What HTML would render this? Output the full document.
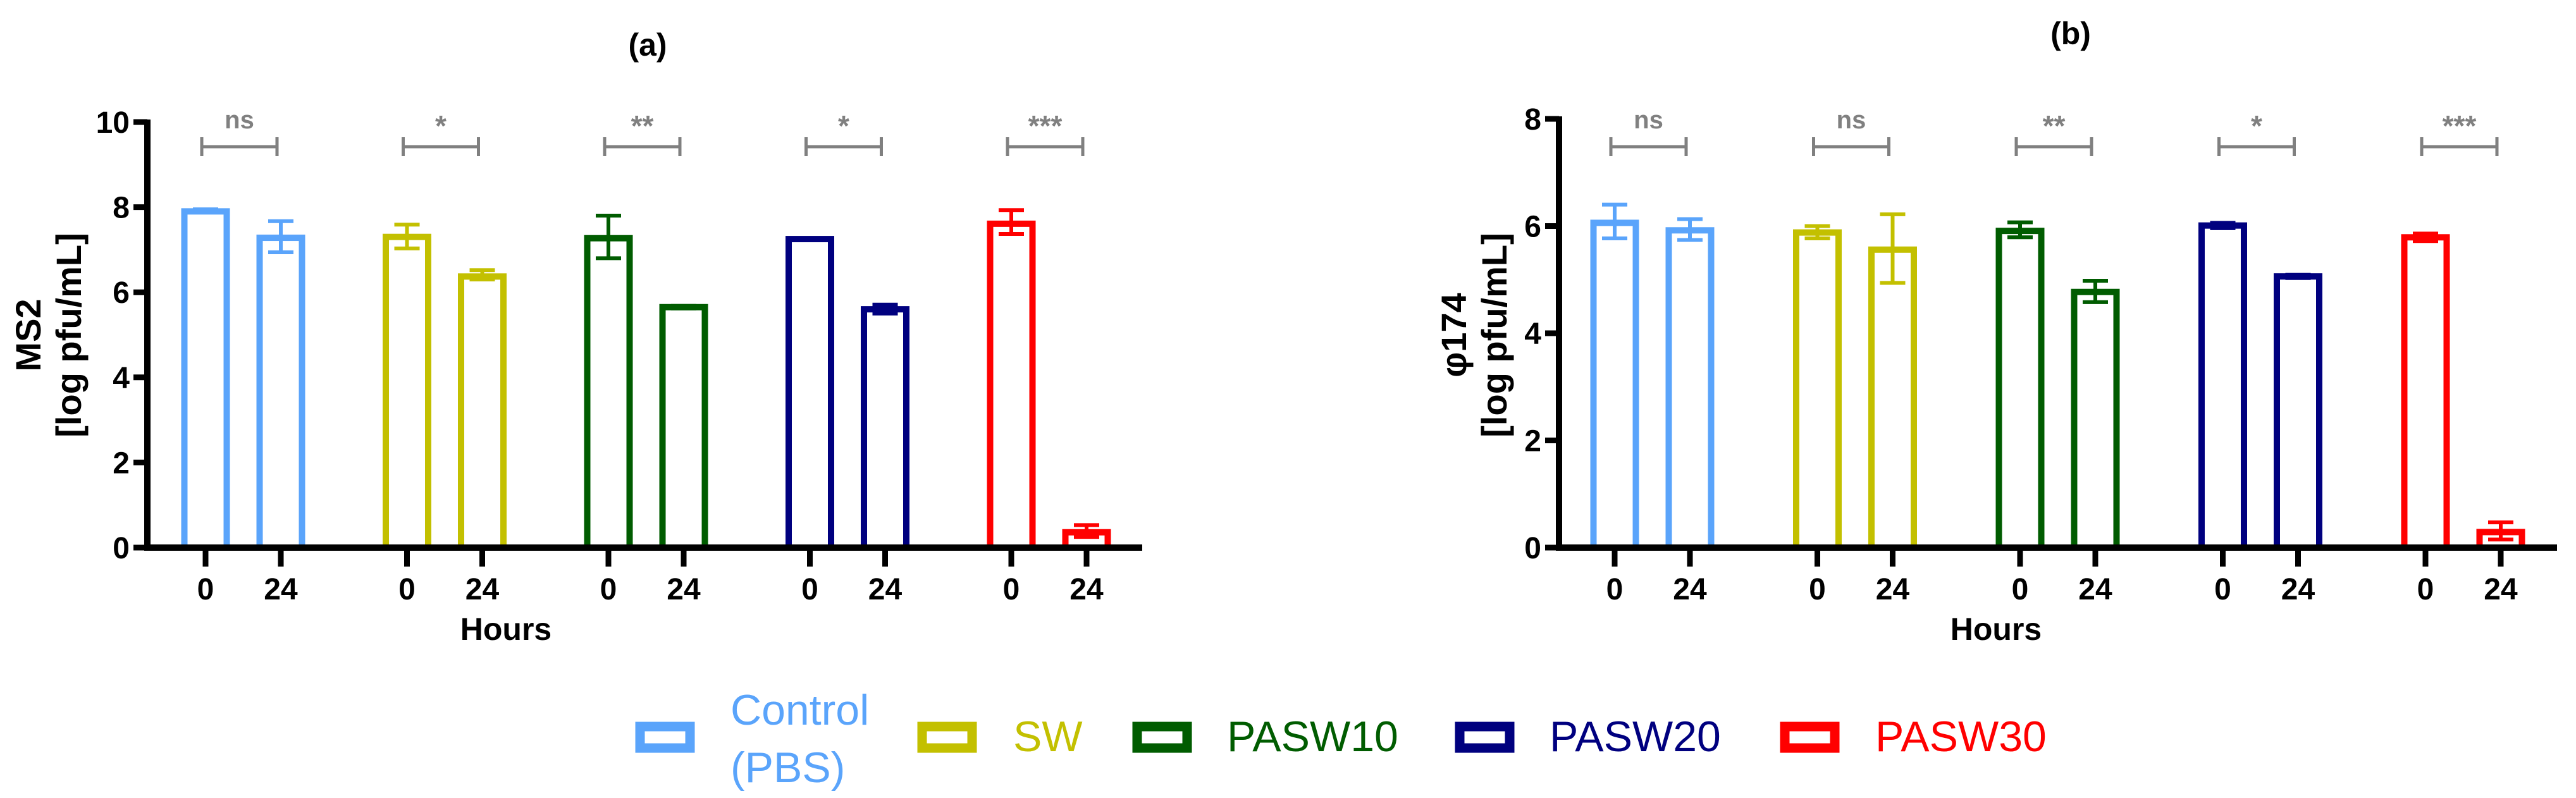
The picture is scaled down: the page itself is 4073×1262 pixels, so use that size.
<!DOCTYPE html>
<html><head><meta charset="utf-8"><style>
html,body{margin:0;padding:0;background:#fff}
svg{display:block;font-family:"Liberation Sans",Arial,sans-serif}
</style></head><body>
<svg id="chart" width="4073" height="1262" viewBox="0 0 4073 1262"></svg>
<script>
const groups = ["Control (PBS)","SW","PASW10","PASW20","PASW30"];
const colors = ["#5aa4fb","#c3c000","#005c00","#00007f","#ff0000"];
const timeLabels = ["0","24"];
const msMean = [[7.9,7.28],[7.3,6.37],[7.27,5.65],[7.25,5.6],[7.61,0.36]];
const msUp   = [[7.95,7.67],[7.59,6.52],[7.8,5.68],[7.27,5.71],[7.93,0.53]];
const msLo   = [[7.88,6.94],[7.03,6.3],[6.8,5.62],[7.23,5.5],[7.37,0.25]];
const phMean = [[6.06,5.92],[5.88,5.56],[5.91,4.77],[6.01,5.06],[5.79,0.29]];
const phUp   = [[6.4,6.13],[6.0,6.22],[6.07,4.98],[6.06,5.09],[5.86,0.47]];
const phLo   = [[5.77,5.74],[5.77,4.94],[5.79,4.58],[5.96,5.03],[5.72,0.15]];
const msSig = ["ns","*","**","*","***"];
const phSig = ["ns","ns","**","*","***"];
const msTicks = [0,2,4,6,8,10];
const phTicks = [0,2,4,6,8];

const svg = document.getElementById('chart');
const NS = "http://www.w3.org/2000/svg";
function mk(tag, attrs, parent){const e=document.createElementNS(NS,tag);for(const k in attrs)e.setAttribute(k,attrs[k]);(parent||svg).appendChild(e);return e;}

function panel(cfg){
  const g = mk('g',{});
  
  
  const y = v => cfg.y0 - (v/cfg.ymax)*(cfg.y0-cfg.yTop);
  const x = (gi,ti) => cfg.x0 + gi*cfg.groupStep + ti*cfg.innerStep;
  cfg.mean.forEach((pair,gi)=>pair.forEach((v,ti)=>{
    const cx = x(gi,ti), bw=67, sw=10;
    const r = mk('rect',{x:cx-bw/2,y:y(v),width:bw,height:cfg.y0-y(v),fill:'none',stroke:colors[gi],'stroke-width':sw},g);
    
    
    const up=cfg.up[gi][ti], lo=cfg.lo[gi][ti];
    const e = mk('path',{d:`M${cx},${y(lo)}V${y(up)}M${cx-20},${y(up)}H${cx+20}M${cx-20},${y(lo)}H${cx+20}`,stroke:colors[gi],'stroke-width':6,fill:'none'},g);
    
    
  }));
  const ax = mk('path',{d:`M${cfg.xAxis},${cfg.yTop-4}V${cfg.y0+5}M${cfg.xAxis-5},${cfg.y0}H${cfg.xEnd}`,stroke:'#000','stroke-width':10,fill:'none'},g);
  
  
  cfg.ticks.forEach(t=>{
    mk('line',{x1:cfg.xAxis-22,x2:cfg.xAxis,y1:y(t),y2:y(t),stroke:'#000','stroke-width':9},g);
    const tl = mk('text',{x:cfg.xAxis-28,y:y(t)+17,'text-anchor':'end','font-size':48,'font-weight':'bold'},g);
    tl.textContent=t;
    
    
  });
  groups.forEach((gn,gi)=>timeLabels.forEach((tl,ti)=>{
    const cx=x(gi,ti);
    mk('line',{x1:cx,x2:cx,y1:cfg.y0,y2:cfg.y0+30,stroke:'#000','stroke-width':9},g);
    const t=mk('text',{x:cx,y:cfg.y0+82,'text-anchor':'middle','font-size':48,'font-weight':'bold'},g);
    t.textContent=tl;
    
    
  }));
  cfg.sig.forEach((s,gi)=>{
    const a=x(gi,0)-6,b=x(gi,1)-6,by=232;
    const br=mk('path',{d:`M${a},${by-15}V${by+15}M${a},${by}H${b}M${b},${by-15}V${by+15}`,stroke:'#808080','stroke-width':5,fill:'none'},g);
    
    
    const st=mk('text',{x:(a+b)/2,y:s==='ns'?203:215,'text-anchor':'middle','font-size':s==='ns'?40:46,'font-weight':'bold',fill:'#808080'},g);
    st.textContent=s;
    
    
  });
  const tt=mk('text',{x:cfg.titleX,y:cfg.titleY,'text-anchor':'middle','font-size':50,'font-weight':'bold'},g);
  tt.textContent=cfg.title;
  
  
  const hx=mk('text',{x:cfg.hoursX,y:1012,'text-anchor':'middle','font-size':50,'font-weight':'bold'},g);
  hx.textContent='Hours';
  
  
  const yt=mk('text',{transform:`translate(${cfg.ytX},530) rotate(-90)`,'text-anchor':'middle','font-size':56,'font-weight':'bold'},g);
  
  
  const t1=mk('tspan',{x:0,y:0},yt); t1.textContent=cfg.yLabel;
  const t2=mk('tspan',{x:0,y:64},yt); t2.textContent='[log pfu/mL]';
}

panel({name:'panel-a-ms2',x0:325,groupStep:318.5,innerStep:119,xAxis:233,xEnd:1806,y0:866,yTop:193,ymax:10,
  ticks:msTicks,mean:msMean,up:msUp,lo:msLo,sig:msSig,title:'(a)',titleX:1024,titleY:88,hoursX:800,ytX:64,yLabel:'MS2'});
panel({name:'panel-b-phi174',x0:2553,groupStep:320.5,innerStep:119,xAxis:2465,xEnd:4043,y0:866,yTop:188,ymax:8,
  ticks:phTicks,mean:phMean,up:phUp,lo:phLo,sig:phSig,title:'(b)',titleX:3274,titleY:70,hoursX:3156,ytX:2318,yLabel:'φ174'});

const legX=[1004,1450,1790,2300,2814], legTX=[1155,1602,1940,2450,2965];
const lg = mk('g',{});


groups.forEach((gn,i)=>{
  const e=mk('g',{},lg);
  
  
  mk('rect',{x:legX[i]+8,y:1149,width:79,height:34,fill:'none',stroke:colors[i],'stroke-width':15},e);
  const t=mk('text',{x:legTX[i],y:1188,'font-size':68,fill:colors[i]},e);
  if(i===0){
    const a=mk('tspan',{x:legTX[i],y:1146},t);a.textContent='Control';
    const b=mk('tspan',{x:legTX[i],y:1237},t);b.textContent='(PBS)';
  } else t.textContent=gn;
});
</script>
</body></html>
